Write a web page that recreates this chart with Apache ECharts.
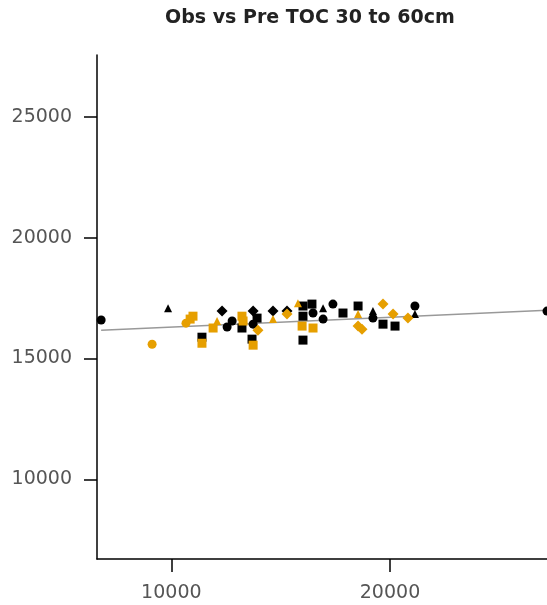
<!DOCTYPE html>
<html>
<head>
<meta charset="utf-8">
<script src="https://cdn.jsdelivr.net/npm/echarts@6/dist/echarts.min.js"></script>
<style>
  html, body { margin: 0; padding: 0; background: #fff; }
  #myChart { width: 547px; height: 605px; }
</style>
</head>
<body>
<div id="myChart"></div>
<script>
// predicted (x) vs observed (y), grouped by colour and symbol
var blackCircle = [
  [6790, 16590], [12780, 16550], [12550, 16300], [13740, 16420], [16480, 16880],
  [16940, 16630], [17390, 17250], [19220, 16670], [21140, 17170], [27180, 16960]
];
var blackSquare = [
  [11400, 15880], [13230, 16260], [13920, 16670], [13690, 15800], [16020, 17170],
  [16020, 16750], [16430, 17250], [16020, 15760], [17850, 16880], [18540, 17170],
  [19680, 16420], [20230, 16340]
];
var blackTriangle = [
  [9850, 17080], [16940, 17080], [19220, 16960], [21140, 16840]
];
var blackDiamond = [
  [12320, 16960], [13740, 16960], [14650, 16960], [15290, 16960]
];
var orangeCircle = [
  [9120, 15590], [10670, 16460]
];
var orangeSquare = [
  [10860, 16630], [10990, 16750], [11400, 15630], [11910, 16260], [13230, 16750],
  [13280, 16550], [13740, 15550], [15980, 16340], [16480, 16260]
];
var orangeTriangle = [
  [12090, 16550], [14650, 16630], [15790, 17290], [18540, 16840]
];
var orangeDiamond = [
  [13960, 16170], [15290, 16840], [18540, 16340], [18720, 16210], [19680, 17250],
  [20140, 16840], [20820, 16670]
];
// fitted line end points
var fitLine = [[6790, 16170], [27180, 17000]];

var xTicks = [10000, 20000];
var yTicks = [10000, 15000, 20000, 25000];

var BLACK = "#000000";
var ORANGE = "#E69F00";
var FONT = "DejaVu Sans";

function pts(name, data, symbol, color, size) {
  return {
    name: name,
    type: "scatter",
    data: data,
    symbol: symbol,
    symbolSize: size,
    itemStyle: { color: color, opacity: 1 },
    z: 3
  };
}

var axisCommon = {
  type: "value",
  splitLine: { show: false },
  axisLine: { show: true, onZero: false, lineStyle: { color: "#000", width: 1.5 } },
  axisTick: { show: true, length: 13, lineStyle: { color: "#000", width: 1.5 } },
  axisLabel: {
    fontSize: 19,
    color: "#555",
    fontFamily: FONT,
    margin: 25,
    formatter: function (v) { return String(v); }
  }
};

var option = {
  animation: false,
  backgroundColor: "#fff",
  title: {
    text: "Obs vs Pre TOC 30 to 60cm",
    left: 165,
    top: 9,
    padding: 0,
    textStyle: { fontSize: 19, fontWeight: "bold", color: "#222", fontFamily: FONT }
  },
  grid: { left: 97, right: 0, top: 55, bottom: 46 },
  xAxis: Object.assign({}, axisCommon, {
    min: 6600,
    max: 27180,
    axisTick: Object.assign({}, axisCommon.axisTick, { customValues: xTicks }),
    axisLabel: Object.assign({}, axisCommon.axisLabel, { customValues: xTicks })
  }),
  yAxis: Object.assign({}, axisCommon, {
    min: 6700,
    max: 27560,
    axisTick: Object.assign({}, axisCommon.axisTick, { customValues: yTicks }),
    axisLabel: Object.assign({}, axisCommon.axisLabel, { customValues: yTicks })
  }),
  series: [
    {
      name: "fit",
      type: "line",
      data: fitLine,
      symbol: "none",
      lineStyle: { color: "#999", width: 1.5 },
      z: 2
    },
    pts("bc", blackCircle, "circle", BLACK, 9),
    pts("bs", blackSquare, "rect", BLACK, 9),
    pts("bt", blackTriangle, "triangle", BLACK, 8),
    pts("bd", blackDiamond, "diamond", BLACK, 11),
    pts("oc", orangeCircle, "circle", ORANGE, 9),
    pts("os", orangeSquare, "rect", ORANGE, 9),
    pts("ot", orangeTriangle, "triangle", ORANGE, 8),
    pts("od", orangeDiamond, "diamond", ORANGE, 11)
  ]
};

var myChart = echarts.init(document.getElementById("myChart"));
myChart.setOption(option);
</script>
</body>
</html>
